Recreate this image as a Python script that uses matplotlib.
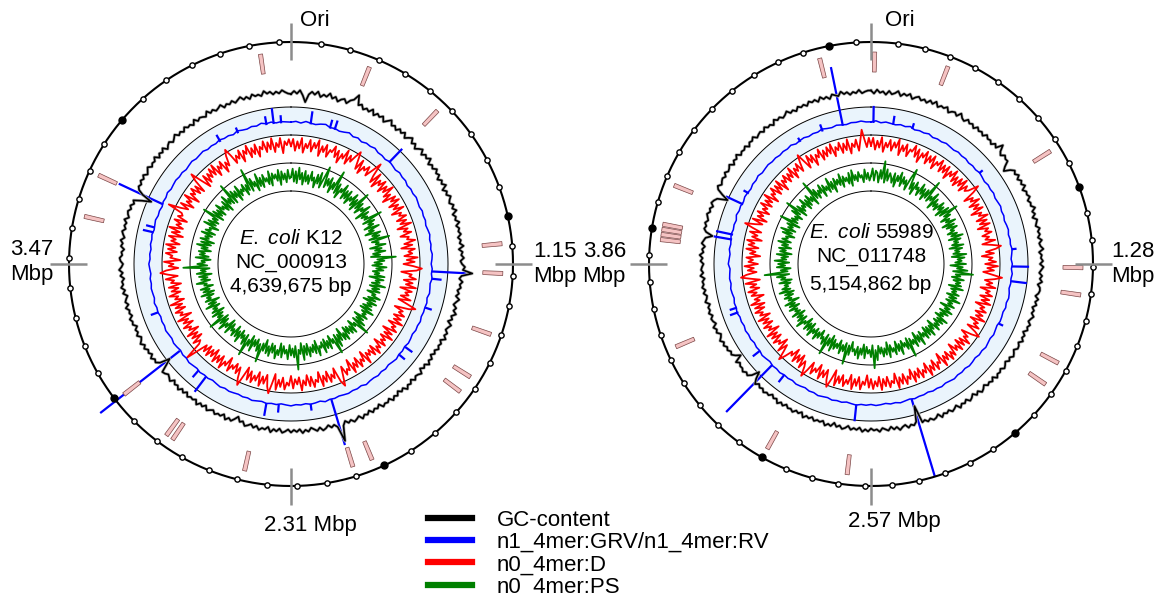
import numpy as np
import matplotlib.pyplot as plt
from matplotlib.lines import Line2D

plt.rcParams['font.family'] = ['Liberation Sans', 'DejaVu Sans']
plt.rcParams['mathtext.fontset'] = 'custom'
plt.rcParams['mathtext.it'] = 'Liberation Sans:italic'
plt.rcParams['mathtext.rm'] = 'Liberation Sans'

# ---- E. coli K12 (NC_000913) ----
K12_LEN = 4639675
# GC content (%) in 360 equal windows
K12_GC = [50.8, 51.4, 50.9, 51.6, 50.6, 49.3, 50.9, 51.5, 51.0, 51.7, 50.7, 51.3, 51.0, 51.8, 50.9, 51.4, 50.6, 51.2, 51.5, 50.8,
          51.6, 52.0, 53.2, 51.3, 51.7, 50.9, 51.4, 51.0, 51.8, 50.8, 51.5, 51.1, 51.6, 50.7, 51.3, 51.9, 51.0, 51.4, 50.8, 51.5,
          51.0, 51.6, 50.7, 51.3, 51.8, 50.9, 51.4, 50.6, 51.2, 51.7, 50.8, 51.5, 51.1, 51.8, 50.7, 51.3, 50.9, 51.6, 51.0, 51.4,
          50.6, 51.3, 50.9, 51.6, 50.5, 51.2, 50.8, 51.5, 51.0, 50.7, 51.4, 50.9, 51.6, 50.6, 51.1, 50.8, 51.5, 50.7, 51.2, 50.9,
          51.3, 50.6, 51.1, 50.8, 51.5, 50.5, 51.2, 50.9, 51.4, 50.7, 51.0, 51.6, 51.2, 53.1, 51.0, 50.6, 51.3, 50.8, 51.1, 50.5,
          50.9, 50.4, 51.2, 50.7, 50.3, 51.0, 50.6, 51.3, 50.5, 50.9, 50.2, 51.1, 50.7, 50.4, 51.0, 50.6, 51.2, 50.3, 50.8, 50.5,
          50.9, 50.3, 50.7, 50.1, 50.8, 50.4, 51.0, 50.2, 50.6, 50.0, 50.9, 50.5, 50.3, 50.8, 50.1, 50.7, 50.4, 51.0, 50.2, 50.6,
          50.0, 50.7, 50.3, 50.9, 50.1, 50.6, 50.4, 50.8, 49.9, 50.5, 50.2, 50.7, 50.0, 50.6, 50.3, 50.9, 50.1, 50.5, 50.8, 50.2,
          50.6, 50.0, 50.8, 53.8, 50.7, 50.1, 50.5, 49.9, 50.4, 50.7, 50.0, 50.6, 50.2, 49.8, 50.5, 50.1, 50.7, 49.9, 50.4, 50.0,
          50.5, 49.9, 50.3, 50.6, 49.8, 50.4, 50.0, 50.7, 49.7, 50.3, 50.1, 50.6, 49.9, 50.4, 49.8, 50.2, 50.5, 49.7, 50.0, 49.1,
          49.8, 50.4, 50.0, 50.6, 49.7, 50.3, 50.1, 50.5, 49.9, 50.2, 50.6, 49.8, 50.4, 50.0, 50.7, 49.9, 50.3, 50.1, 50.5, 49.8,
          50.4, 49.9, 50.6, 50.0, 50.3, 49.7, 50.5, 50.1, 49.8, 50.2, 50.4, 48.9, 47.6, 49.6, 50.3, 50.0, 50.6, 49.9, 50.4, 50.1,
          50.7, 50.2, 50.9, 50.4, 50.1, 50.8, 50.3, 50.6, 50.0, 50.7, 50.5, 50.9, 50.2, 50.6, 50.4, 51.0, 50.3, 50.8, 50.5, 50.1,
          50.9, 50.4, 51.1, 50.6, 50.8, 50.3, 51.0, 50.5, 51.2, 50.7, 50.4, 50.9, 51.1, 50.6, 50.8, 50.3, 51.0, 50.7, 51.2, 50.5,
          50.9, 51.2, 50.6, 51.0, 50.7, 51.3, 50.5, 50.9, 51.1, 50.6, 51.0, 50.4, 50.8, 49.2, 47.4, 49.5, 50.6, 51.0, 50.7, 51.2,
          50.8, 51.3, 50.6, 51.0, 51.4, 50.7, 51.1, 50.9, 51.5, 50.6, 51.2, 50.8, 51.4, 50.5, 51.0, 51.3, 50.7, 51.1, 51.6, 50.9,
          51.3, 50.8, 51.5, 51.0, 51.2, 50.7, 51.6, 50.9, 51.3, 51.1, 50.8, 51.7, 51.0, 51.4, 50.9, 51.2, 51.6, 50.8, 51.3, 51.0,
          51.5, 50.9, 51.3, 51.7, 51.0, 51.4, 50.8, 51.6, 51.1, 51.3, 50.9, 51.8, 51.2, 51.5, 50.9, 51.4, 51.0, 51.6, 51.2, 50.9]
# n1_4mer:GRV/n1_4mer:RV, 180 windows (score 0-100) plus isolated peaks
K12_GRV = [46, 49, 44, 51, 47, 45, 50, 53, 46, 48, 44, 47, 52, 45, 49, 43, 48, 46, 50, 44,
           45, 42, 47, 44, 41, 46, 43, 45, 40, 44, 42, 46, 43, 41, 45, 42, 44, 40, 43, 46,
           42, 44, 41, 45, 43, 40, 44, 42, 46, 41, 43, 45, 40, 44, 42, 43, 41, 45, 42, 44,
           40, 43, 45, 41, 44, 42, 46, 43, 40, 44, 41, 45, 42, 43, 47, 41, 44, 42, 45, 43,
           41, 44, 42, 46, 40, 43, 45, 41, 44, 42, 46, 43, 40, 44, 42, 45, 41, 43, 46, 42,
           44, 41, 43, 45, 42, 46, 43, 40, 44, 42, 45, 41, 43, 46, 42, 44, 40, 43, 45, 41,
           43, 46, 42, 44, 41, 45, 43, 47, 42, 44, 46, 43, 45, 41, 44, 47, 43, 45, 42, 46,
           44, 47, 43, 45, 48, 44, 46, 43, 47, 45, 49, 44, 46, 48, 45, 47, 43, 46, 49, 45,
           47, 50, 45, 48, 46, 51, 47, 49, 45, 52, 48, 46, 50, 47, 53, 48, 51, 46, 49, 47]
K12_PEAK_MB = [4.549, 4.511, 4.588, 0.103, 0.206, 0.232, 0.567, 1.199, 1.237,
               1.392, 1.624, 1.675, 2.106, 2.217, 2.384, 2.449, 2.797, 2.848,
               2.990, 3.222, 3.647, 3.673, 3.802, 4.253, 4.356]
K12_PEAK = [100, 75, 72, 90, 75, 78, 111, 168, 80,
            68, 75, 70, 214, 68, 72, 90, 111, 75,
            404, 72, 82, 75, 218, 72, 65]
# n0_4mer:D, 360 windows
K12_D = [60, 86, 44, 78, 53, 91, 39, 72, 57, 88, 47, 80, 62, 93, 37, 75, 55, 84, 42, 70,
         64, 89, 51, 79, 36, 73, 58, 94, 45, 82, 61, 87, 110, 77, 49, 90, 41, 74, 63, 85,
         52, 81, 118, 71, 46, 92, 38, 76, 59, 87, 43, 79, 56, 95, 48, 72, 35, 83, 60, 89,
         44, 77, 54, 90, 40, 73, 62, 86, 47, 80, 55, 93, 39, 75, 58, 84, 42, 71, 63, 91,
         50, 78, 37, 85, 61, 74, 45, 92, 53, 81, 41, 76, 107, 88, 34, 72, 64, 89, 46, 79,
         56, 94, 38, 82, 60, 74, 47, 86, 43, 77, 112, 90, 39, 73, 61, 85, 48, 80, 55, 93,
         42, 75, 63, 87, 36, 79, 51, 91, 46, 72, 58, 84, 40, 76, 62, 89, 45, 81, 52, 70,
         53, 92, 38, 74, 60, 86, 44, 78, 56, 90, 35, 73, 64, 83, 47, 80, 115, 94, 41, 76,
         59, 85, 43, 79, 54, 91, 37, 72, 62, 87, 48, 81, 40, 76, 57, 93, 45, 70, 51, 84,
         39, 74, 63, 88, 46, 80, 55, 92, 36, 71, 108, 85, 44, 78, 53, 90, 41, 75, 58, 86,
         47, 82, 38, 73, 112, 89, 50, 77, 43, 68, 56, 84, 35, 72, 59, 91, 46, 79, 54, 87,
         40, 76, 52, 85, 48, 80, 57, 93, 139, 74, 62, 88, 45, 81, 52, 90, 39, 73, 60, 86,
         44, 78, 55, 92, 36, 75, 63, 87, 47, 81, 53, 94, 41, 72, 58, 89, 46, 77, 50, 84,
         38, 73, 61, 90, 46, 79, 107, 86, 42, 76, 59, 93, 35, 71, 64, 88, 49, 82, 56, 91,
         43, 75, 60, 87, 37, 80, 52, 94, 45, 72, 57, 85, 40, 78, 63, 70, 125, 81, 55, 89,
         41, 74, 58, 92, 36, 77, 62, 86, 50, 80, 44, 91, 118, 73, 39, 84, 47, 79, 57, 88,
         56, 93, 42, 76, 60, 85, 37, 72, 54, 90, 110, 81, 48, 74, 58, 87, 40, 79, 63, 92,
         45, 77, 52, 86, 38, 73, 61, 89, 48, 82, 55, 94, 43, 75, 59, 91, 36, 78, 64, 85]
# n0_4mer:PS, 360 windows
K12_PS = [48, 79, 31, 70, 26, 84, 41, 66, 23, 75, 36, 61, 29, 77, 44, 58, 21, 72, 39, 83,
          27, 64, 112, 35, 71, 46, 80, 24, 67, 42, 118, 33, 74, 20, 62, 49, 85, 30, 69, 38,
          76, 25, 60, 45, 81, 34, 68, 22, 108, 40, 73, 28, 63, 50, 86, 19, 71, 37, 59, 43,
          110, 31, 75, 47, 65, 26, 82, 39, 57, 21, 78, 44, 70, 29, 104, 36, 61, 48, 84, 24,
          67, 41, 79, 32, 58, 23, 115, 46, 72, 35, 63, 27, 80, 42, 69, 30, 55, 38, 76, 20,
          74, 45, 62, 33, 85, 28, 66, 40, 71, 25, 59, 47, 81, 36, 68, 22, 77, 43, 64, 31,
          70, 26, 83, 39, 60, 48, 73, 21, 65, 37, 80, 30, 106, 44, 57, 24, 75, 41, 69, 34,
          62, 28, 78, 46, 71, 19, 66, 38, 84, 32, 104, 43, 58, 25, 74, 40, 67, 29, 79, 36,
          56, 47, 82, 23, 70, 35, 63, 42, 76, 27, 68, 33, 85, 21, 61, 45, 118, 30, 72, 39,
          65, 26, 79, 44, 59, 31, 74, 22, 67, 48, 81, 34, 62, 28, 77, 41, 70, 20, 64, 37,
          110, 43, 73, 29, 60, 36, 83, 25, 69, 46, 112, 32, 75, 40, 57, 27, 80, 38, 66, 24,
          71, 45, 58, 30, 78, 21, 63, 47, 84, 34, 68, 26, 104, 42, 61, 35, 76, 23, 69, 44,
          59, 29, 81, 37, 65, 20, 72, 48, 62, 33, 79, 27, 67, 41, 74, 25, 57, 46, 83, 31,
          64, 39, 70, 22, 77, 43, 61, 28, 125, 36, 73, 45, 58, 24, 80, 32, 66, 47, 71, 26,
          63, 40, 82, 30, 69, 21, 75, 44, 60, 35, 78, 27, 67, 48, 56, 23, 84, 38, 72, 33,
          61, 42, 106, 25, 74, 37, 65, 29, 79, 46, 58, 31, 70, 20, 83, 41, 62, 34, 114, 28,
          76, 44, 68, 23, 81, 36, 59, 47, 72, 26, 64, 39, 120, 30, 77, 43, 60, 22, 85, 35,
          66, 27, 73, 45, 57, 32, 80, 24, 69, 48, 63, 38, 78, 21, 71, 40, 62, 29, 75, 42]
# loci marked on the outer ring (Mb)
K12_LOCI_MB = [4.533, 0.280, 0.563, 1.089, 1.193, 1.410, 1.575, 1.637,
               2.030, 2.101, 2.483, 2.758, 2.784, 2.990, 3.647, 3.799]

# ---- E. coli 55989 (NC_011748) ----
EC55_LEN = 5154862
EC55_GC = [51.5, 50.9, 51.7, 51.1, 51.4, 50.8, 51.6, 51.0, 51.3, 51.8, 50.9, 51.5, 51.2, 51.7, 50.8, 51.3, 51.6, 51.0, 51.4, 50.9,
           51.6, 51.1, 51.8, 50.9, 51.4, 51.2, 51.7, 50.8, 51.3, 51.5, 51.0, 51.9, 51.2, 50.9, 51.6, 51.1, 51.4, 50.8, 51.5, 51.0,
           51.3, 50.8, 51.5, 51.0, 51.2, 50.7, 51.4, 50.9, 52.3, 51.1, 50.6, 51.3, 50.9, 51.0, 49.9, 49.2, 50.4, 51.1, 50.7, 51.3,
           50.6, 51.2, 50.8, 51.4, 50.5, 51.1, 50.9, 51.3, 50.6, 51.0, 50.8, 51.5, 50.7, 51.1, 50.4, 51.2, 50.9, 50.6, 51.3, 50.8,
           51.1, 50.6, 51.3, 50.7, 50.9, 51.4, 50.5, 51.0, 50.8, 51.2, 50.6, 51.3, 50.9, 50.5, 51.1, 50.7, 51.2, 50.4, 50.9, 51.0,
           50.8, 50.3, 51.0, 50.5, 50.9, 50.2, 50.7, 50.4, 51.0, 50.6, 50.3, 50.9, 50.5, 50.8, 50.1, 50.7, 50.4, 50.9, 50.2, 50.6,
           50.7, 50.1, 50.5, 50.8, 50.2, 50.6, 50.0, 50.4, 50.7, 50.1, 50.5, 50.3, 50.8, 50.0, 50.6, 50.2, 50.5, 49.9, 50.4, 50.7,
           50.0, 50.5, 49.8, 50.3, 50.6, 49.9, 50.4, 50.1, 50.7, 49.8, 50.2, 50.5, 49.9, 50.3, 50.0, 50.6, 49.7, 50.2, 50.4, 49.9,
           50.3, 49.8, 50.1, 46.5, 49.6, 50.2, 49.9, 50.4, 49.7, 50.0, 50.5, 49.8, 50.2, 49.6, 50.3, 50.0, 49.7, 50.4, 49.9, 50.1,
           49.7, 50.3, 49.9, 50.4, 49.6, 50.1, 49.8, 50.2, 49.5, 50.0, 50.3, 49.7, 50.1, 49.4, 50.2, 49.9, 50.4, 49.6, 50.0, 49.8,
           50.2, 49.6, 50.1, 49.8, 50.4, 49.5, 50.0, 49.7, 50.3, 49.9, 50.1, 49.6, 50.2, 49.8, 50.4, 49.7, 50.0, 49.5, 50.1, 49.9,
           50.3, 49.8, 50.1, 49.6, 50.2, 49.3, 47.9, 49.4, 50.1, 49.8, 50.3, 49.9, 50.0, 49.6, 50.2, 48.6, 49.5, 50.1, 49.8, 50.3,
           50.0, 50.5, 50.1, 50.7, 50.2, 49.9, 50.6, 50.3, 50.8, 50.0, 50.4, 50.6, 50.1, 50.7, 50.3, 50.5, 50.0, 50.8, 50.4, 50.2,
           50.8, 50.3, 50.9, 50.5, 50.7, 50.2, 51.0, 50.4, 50.8, 50.6, 50.3, 50.9, 50.5, 51.1, 50.4, 50.7, 50.2, 50.9, 50.6, 50.3,
           49.0, 50.4, 50.9, 50.6, 51.0, 50.5, 50.8, 51.1, 50.6, 50.9, 50.4, 51.0, 50.7, 50.2, 48.2, 49.6, 50.8, 51.2, 50.6, 50.9,
           51.1, 50.7, 51.3, 50.8, 51.0, 51.4, 50.6, 51.2, 50.9, 51.5, 50.7, 51.1, 50.9, 51.3, 50.6, 51.2, 51.0, 51.5, 50.8, 51.1,
           51.3, 50.8, 51.5, 51.0, 51.2, 50.7, 51.6, 51.1, 51.4, 50.9, 51.2, 51.7, 51.0, 51.3, 50.8, 51.5, 51.1, 51.4, 50.9, 51.6,
           51.2, 51.5, 50.9, 51.7, 51.1, 51.4, 50.8, 51.6, 51.3, 51.0, 51.8, 51.2, 51.5, 50.9, 51.4, 51.1, 51.7, 51.0, 51.3, 51.5]
EC55_GRV = [47, 51, 45, 49, 46, 44, 48, 45, 50, 43, 46, 44, 48, 42, 45, 43, 47, 44, 42, 46,
            43, 45, 41, 44, 42, 46, 43, 40, 44, 42, 45, 41, 43, 46, 42, 44, 40, 43, 45, 41,
            44, 42, 46, 43, 40, 44, 41, 45, 42, 43, 40, 44, 46, 42, 45, 41, 43, 44, 40, 42,
            45, 41, 43, 46, 42, 44, 40, 43, 45, 41, 44, 42, 46, 43, 41, 45, 42, 44, 40, 43,
            42, 45, 41, 43, 46, 42, 44, 40, 43, 45, 41, 44, 42, 46, 43, 40, 44, 42, 45, 41,
            43, 46, 42, 44, 40, 43, 45, 41, 44, 42, 46, 43, 45, 41, 44, 47, 43, 45, 42, 46,
            44, 47, 43, 46, 44, 49, 45, 47, 43, 46, 48, 44, 47, 45, 43, 49, 46, 44, 48, 45,
            47, 50, 46, 48, 45, 51, 47, 49, 46, 50, 48, 45, 49, 47, 51, 46, 48, 50, 47, 49,
            46, 49, 47, 51, 45, 48, 50, 46, 49, 47, 52, 48, 46, 50, 47, 45, 49, 48, 51, 47]
EC55_PEAK_MB = [4.990, 0.014, 0.129, 0.243, 0.716, 1.203, 1.303, 1.389,
                1.647, 2.338, 2.663, 3.122, 3.213, 3.322, 3.580, 3.608,
                4.009, 4.038, 4.224, 4.296, 4.725, 4.868]
EC55_PEAK = [257, 104, 75, 65, 60, 62, 104, 100,
             60, 332, 104, 75, 279, 75, 75, 70,
             110, 105, 111, 65, 60, 70]
EC55_D = [62, 90, 48, 80, 56, 94, 42, 76, 60, 88, 50, 82, 64, 96, 40, 78, 58, 86, 44, 72,
          66, 92, 52, 84, 38, 76, 62, 89, 46, 80, 58, 88, 42, 74, 64, 90, 48, 80, 54, 86,
          40, 77, 60, 92, 50, 78, 44, 84, 57, 93, 47, 81, 63, 75, 112, 86, 41, 73, 59, 90,
          45, 79, 55, 87, 38, 74, 61, 92, 46, 82, 53, 88, 40, 77, 63, 85, 49, 72, 57, 91,
          43, 76, 108, 89, 52, 80, 36, 74, 60, 86, 47, 93, 55, 79, 41, 72, 110, 84, 50, 78,
          58, 92, 39, 75, 62, 87, 45, 81, 54, 90, 37, 73, 60, 85, 48, 79, 56, 94, 42, 76,
          63, 88, 46, 82, 104, 77, 40, 72, 59, 91, 51, 80, 44, 86, 57, 74, 38, 83, 61, 89,
          49, 78, 55, 92, 36, 71, 62, 87, 45, 81, 58, 93, 41, 75, 60, 86, 47, 80, 53, 90,
          40, 74, 61, 88, 48, 82, 56, 94, 39, 73, 63, 85, 46, 79, 52, 91, 43, 77, 58, 86,
          50, 81, 37, 72, 60, 89, 45, 78, 54, 92, 41, 76, 62, 87, 48, 80, 56, 93, 38, 74,
          106, 84, 47, 79, 55, 91, 40, 73, 61, 87, 46, 81, 110, 76, 58, 90, 43, 78, 52, 86,
          39, 73, 60, 88, 112, 80, 56, 93, 42, 75, 63, 87, 48, 82, 54, 91, 37, 74, 59, 85,
          46, 79, 53, 90, 41, 76, 62, 88, 50, 83, 44, 92, 57, 74, 38, 81, 60, 89, 47, 78,
          55, 93, 40, 72, 106, 86, 49, 80, 58, 91, 43, 77, 61, 85, 36, 73, 54, 88, 45, 82,
          62, 90, 38, 75, 57, 87, 47, 81, 112, 76, 52, 92, 41, 79, 60, 86, 44, 73, 58, 89,
          48, 80, 55, 93, 39, 74, 62, 88, 46, 82, 53, 90, 37, 76, 60, 85, 49, 79, 56, 92,
          42, 78, 61, 87, 50, 81, 108, 74, 45, 90, 58, 84, 40, 77, 63, 91, 47, 80, 54, 86,
          59, 92, 44, 76, 62, 88, 48, 81, 55, 93, 40, 75, 61, 87, 46, 79, 120, 84, 57, 90]
EC55_PS = [52, 80, 35, 72, 64, 29, 76, 44, 110, 31, 82, 40, 70, 57, 36, 74, 24, 68, 48, 84,
           33, 71, 46, 63, 27, 78, 114, 38, 66, 22, 75, 49, 60, 30, 81, 43, 69, 26, 73, 41,
           118, 36, 62, 47, 85, 21, 70, 39, 58, 32, 77, 45, 67, 25, 80, 37, 108, 48, 72, 28,
           61, 43, 79, 23, 68, 35, 74, 46, 58, 30, 65, 40, 83, 27, 71, 44, 59, 34, 76, 22,
           69, 41, 57, 33, 81, 26, 73, 47, 62, 38, 78, 20, 66, 45, 84, 31, 106, 42, 60, 29,
           75, 37, 64, 48, 70, 24, 80, 36, 58, 43, 72, 27, 67, 40, 85, 33, 61, 46, 74, 21,
           63, 44, 78, 30, 69, 39, 56, 25, 82, 41, 71, 34, 65, 47, 76, 22, 60, 38, 79, 35,
           68, 28, 73, 45, 59, 32, 84, 40, 66, 23, 77, 46, 62, 36, 104, 29, 70, 43, 57, 31,
           81, 39, 65, 26, 74, 48, 61, 34, 79, 21, 67, 42, 72, 37, 60, 30, 83, 45, 112, 27,
           71, 44, 58, 33, 76, 25, 64, 41, 80, 36, 69, 47, 57, 22, 73, 38, 110, 32, 66, 43,
           78, 29, 62, 46, 70, 35, 83, 24, 68, 40, 108, 31, 75, 48, 59, 27, 64, 42, 77, 34,
           61, 45, 80, 28, 66, 37, 72, 23, 58, 47, 84, 33, 69, 41, 63, 26, 76, 39, 57, 44,
           74, 30, 67, 42, 79, 21, 60, 46, 71, 35, 65, 28, 82, 38, 68, 43, 56, 32, 73, 25,
           64, 47, 78, 31, 122, 36, 61, 24, 75, 44, 70, 29, 83, 40, 59, 34, 77, 22, 66, 45,
           72, 27, 63, 41, 80, 33, 68, 48, 57, 26, 74, 39, 85, 30, 62, 45, 71, 23, 104, 37,
           65, 42, 58, 30, 79, 46, 110, 25, 73, 38, 61, 47, 81, 28, 67, 35, 76, 43, 60, 22,
           116, 40, 75, 33, 62, 47, 78, 26, 69, 44, 58, 31, 84, 37, 65, 21, 72, 45, 63, 39,
           80, 28, 67, 46, 59, 34, 74, 23, 81, 42, 61, 36, 70, 48, 57, 30, 77, 41, 64, 35]
EC55_LOCI_MB = [0.014, 4.954, 0.305, 0.828, 1.303, 1.409, 1.688, 1.784,
                2.670, 2.997, 3.537, 3.961, 3.981, 4.001, 4.021, 4.178]

TRACK_NAMES = ['GC-content', 'n1_4mer:GRV/n1_4mer:RV', 'n0_4mer:D', 'n0_4mer:PS']
TRACK_COLORS = ['black', '#0000ff', '#ff0000', '#008000']

W, H = 1156, 595
RMAX = 262   # radius of each polar panel, in pixels

fig = plt.figure(figsize=(W / 100, H / 100), dpi=100)


def panel(cx, cy):
    ax = fig.add_axes([(cx - RMAX) / W, (H - cy - RMAX) / H,
                       2 * RMAX / W, 2 * RMAX / H], projection='polar')
    ax.set_theta_zero_location('N')
    ax.set_theta_direction(-1)
    ax.set_ylim(0, RMAX)
    ax.set_axis_off()
    return ax


def ang(pos_bp, length):
    return 2 * np.pi * np.asarray(pos_bp, dtype=float) / length


def windows(values):
    v = np.asarray(values, dtype=float)
    th = np.arange(len(v) + 1) * 2 * np.pi / len(v)
    return th, np.append(v, v[0])


def band(v, lo, hi):
    return lo + (hi - lo) * np.asarray(v, dtype=float) / 100.0


def draw_genome(ax, length, gc, grv, peak_mb, peak, d, ps, loci_mb):
    full = np.linspace(0, 2 * np.pi, 721)
    ax.fill_between(full, 129, 157, color='#eaf4fc', lw=0, zorder=0)
    for r in (73, 101, 129, 157):
        ax.plot(full, np.full_like(full, r), color='black', lw=0.7, zorder=1)

    th, v = windows(ps)
    ax.plot(th, band(v, 74, 101), color=TRACK_COLORS[3], lw=1.3, zorder=2)
    th, v = windows(d)
    ax.plot(th, band(v, 101, 129), color=TRACK_COLORS[2], lw=1.3, zorder=2)
    th, v = windows(grv)
    ax.plot(th, band(v, 129, 157), color=TRACK_COLORS[1], lw=1.1, zorder=3)
    ax.vlines(ang(np.array(peak_mb) * 1e6, length), band(43, 129, 157),
              band(peak, 129, 157), color=TRACK_COLORS[1], lw=1.6, zorder=3)

    th, v = windows(gc)
    r_gc = 170 + (v - 50.8) * 5
    ax.plot(th, r_gc, color='#b4b4b4', lw=2.2, zorder=3)
    ax.plot(th, r_gc, color='black', lw=1.2, zorder=4)

    # loci
    ax.bar(ang(np.array(loci_mb) * 1e6, length), 20, width=4 / 202, bottom=192,
           color='#f5c3c3', edgecolor='#7a4545', linewidth=0.5, zorder=4)

    # genome ring with 100 kb / 1 Mb marks
    ax.plot(full, np.full_like(full, 222), color='black', lw=1.5, zorder=5)
    kb = np.arange(100000, length, 100000)
    minor, major = kb[kb % 1000000 != 0], kb[kb % 1000000 == 0]
    ax.plot(ang(minor, length), np.full(len(minor), 222), 'o', ms=3.8,
            mfc='white', mec='black', mew=1.0, zorder=6)
    ax.plot(ang(major, length), np.full(len(major), 222), 'o', ms=5,
            color='black', zorder=6)

    ax.vlines(np.arange(4) * np.pi / 2, 204, 241, color='#8c8c8c', lw=1.8,
              zorder=7)


def label(ax, text, dx, dy, **kw):
    ax.annotate(text, xy=(0, 0), xytext=(dx, dy), textcoords='offset pixels',
                **kw)


def mbp(length, frac):
    # truncated to two decimals
    return '%.2f' % (np.floor(length * frac / 1e4) / 100)


# left: K12
ax1 = panel(291, 264)
draw_genome(ax1, K12_LEN, K12_GC, K12_GRV, K12_PEAK_MB, K12_PEAK,
            K12_D, K12_PS, K12_LOCI_MB)
label(ax1, 'Ori', 9, 244, ha='left', va='center', fontsize=16)
label(ax1, mbp(K12_LEN, 0.75) + '\nMbp', -238, 2, ha='right', va='center',
      multialignment='left', fontsize=16)
label(ax1, mbp(K12_LEN, 0.25) + '\nMbp', 242, 0, ha='left', va='center',
      multialignment='left', fontsize=16)
label(ax1, mbp(K12_LEN, 0.5) + ' Mbp', 19, -261, ha='center', va='center',
      fontsize=16)
for txt, dy in [(r'$\mathit{E.\ coli}$ K12', 26), ('NC_000913', 2),
                ('{:,} bp'.format(K12_LEN), -23)]:
    label(ax1, txt, 0, dy, ha='center', va='center', fontsize=15)

# right: 55989
ax2 = panel(871, 264)
draw_genome(ax2, EC55_LEN, EC55_GC, EC55_GRV, EC55_PEAK_MB, EC55_PEAK,
            EC55_D, EC55_PS, EC55_LOCI_MB)
label(ax2, 'Ori', 14, 244, ha='left', va='center', fontsize=16)
label(ax2, mbp(EC55_LEN, 0.75) + '\nMbp', -245, 0, ha='right', va='center',
      multialignment='left', fontsize=16)
label(ax2, mbp(EC55_LEN, 0.25) + '\nMbp', 240, 0, ha='left', va='center',
      multialignment='left', fontsize=16)
label(ax2, mbp(EC55_LEN, 0.5) + ' Mbp', 23, -257, ha='center', va='center',
      fontsize=16)
for txt, dy in [(r'$\mathit{E.\ coli}$ 55989', 31), ('NC_011748', 7),
                ('{:,} bp'.format(EC55_LEN), -21)]:
    label(ax2, txt, 0, dy, ha='center', va='center', fontsize=15)

handles = [Line2D([], [], color=c, lw=4.5) for c in TRACK_COLORS]
fig.legend(handles, TRACK_NAMES, loc='upper left',
           bbox_to_anchor=(428 / W, 1 - 510 / H), frameon=False, fontsize=16,
           handlelength=2.0, handletextpad=1.1, labelspacing=0.05,
           borderpad=0, borderaxespad=0)

fig.savefig('out.png', dpi=100, facecolor='white')
